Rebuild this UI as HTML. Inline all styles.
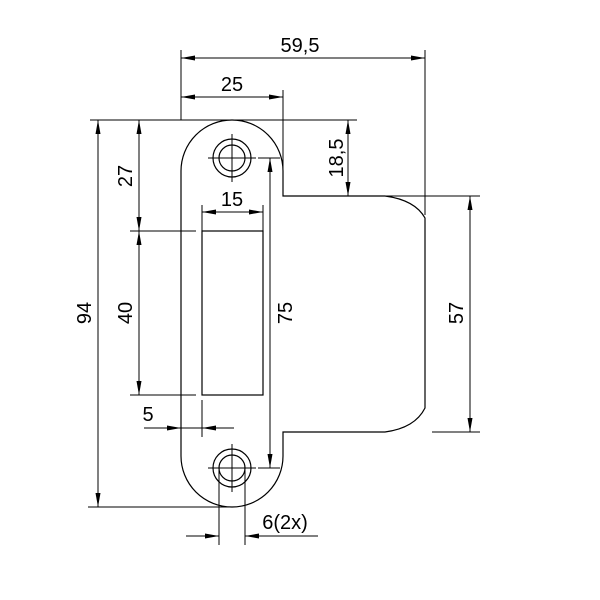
<!DOCTYPE html>
<html><head><style>html,body{margin:0;padding:0;background:#fff}svg{display:block}</style></head>
<body>
<svg width="600" height="600" viewBox="0 0 600 600" xmlns="http://www.w3.org/2000/svg">
<defs>
<marker id="a" viewBox="0 0 14 6" refX="14" refY="3" markerWidth="14" markerHeight="6" markerUnits="userSpaceOnUse" orient="auto-start-reverse">
<path d="M0,0.5 L14,3 L0,5.5 Z" fill="#000"/></marker>
</defs>
<g fill="none" stroke="#000" stroke-width="1.2">
<!-- plate -->
<path d="M181,456 L181,171 A51,51 0 0 1 283,171 L283,196 L385,196 Q415,200 425,218 L425,408 Q415,428 385,432 L283,432 L283,456 A51,51 0 0 1 181,456 Z"/>
<rect x="202" y="231" width="61" height="164"/>
<circle cx="232" cy="158" r="19"/><circle cx="232" cy="158" r="13"/>
<circle cx="232" cy="468" r="19"/><circle cx="232" cy="468" r="13"/>
</g>
<g fill="none" stroke="#000" stroke-width="1">
<!-- center marks -->
<path d="M208,158 H256 M232,134 V182 M208,468 H256 M232,444 V492"/>
<!-- extension lines -->
<path d="M181,50 V120 M425,50 V215 M283,90 V196 M90,120 H357 M357,196 H480 M432,432 H480 M202,205 V231 M263,205 V231 M130,231 H196 M130,395 H196 M88,507 H232 M258,158 H280 M258,468 H280 M202,400 V437 M219,470 V545 M245,470 V545"/>
<!-- dimension lines -->
<path d="M181,58 H425" marker-start="url(#a)" marker-end="url(#a)"/>
<path d="M181,97 H283" marker-start="url(#a)" marker-end="url(#a)"/>
<path d="M348,120 V196" marker-start="url(#a)" marker-end="url(#a)"/>
<path d="M202,212 H263" marker-start="url(#a)" marker-end="url(#a)"/>
<path d="M139,120 V231" marker-start="url(#a)" marker-end="url(#a)"/>
<path d="M139,231 V395" marker-start="url(#a)" marker-end="url(#a)"/>
<path d="M98,120 V507" marker-start="url(#a)" marker-end="url(#a)"/>
<path d="M270,158 V468" marker-start="url(#a)" marker-end="url(#a)"/>
<path d="M470,196 V432" marker-start="url(#a)" marker-end="url(#a)"/>
<path d="M144,428 H181" marker-end="url(#a)"/><path d="M234,428 H202" marker-end="url(#a)"/>
<path d="M186,536 H219" marker-end="url(#a)"/><path d="M318,536 H245" marker-end="url(#a)"/>
<path d="M181,428 H202"/>
</g>
<g font-family="Liberation Sans, sans-serif" font-size="20" fill="#000" text-anchor="middle">
<text x="300" y="52">59,5</text>
<text x="232" y="91">25</text>
<text x="232" y="206">15</text>
<text x="148" y="421">5</text>
<text x="285" y="529">6(2x)</text>
<text transform="translate(343,158) rotate(-90)">18,5</text>
<text transform="translate(132,176) rotate(-90)">27</text>
<text transform="translate(132,313) rotate(-90)">40</text>
<text transform="translate(91,313) rotate(-90)">94</text>
<text transform="translate(292,313) rotate(-90)">75</text>
<text transform="translate(463,313) rotate(-90)">57</text>
</g>
</svg>
</body></html>
